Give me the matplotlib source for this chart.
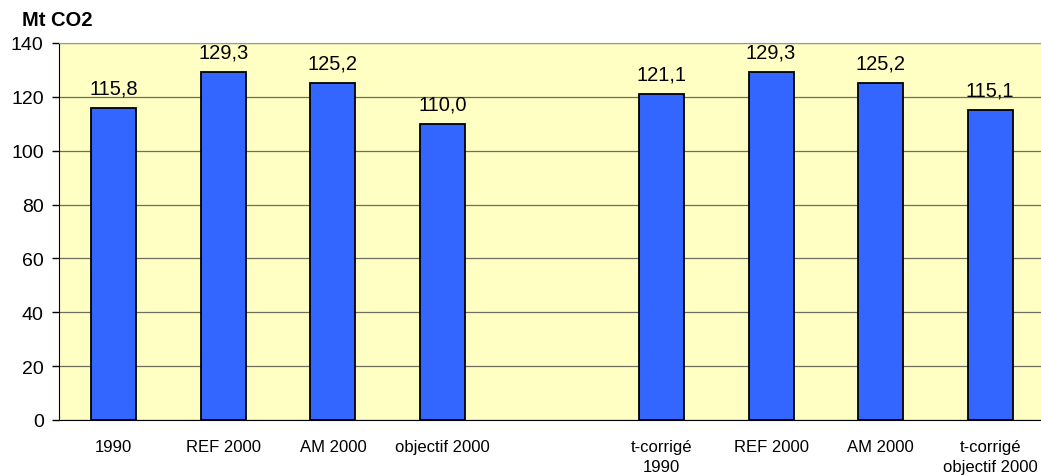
import matplotlib.pyplot as plt
import numpy as np

plt.rcParams['font.family'] = ['Liberation Sans', 'DejaVu Sans']

categories = ['1990', 'REF 2000', 'AM 2000', 'objectif 2000', '',
              't-corrigé\n1990', 'REF 2000', 'AM 2000', 't-corrigé\nobjectif 2000']
values = [115.8, 129.3, 125.2, 110.0, np.nan, 121.1, 129.3, 125.2, 115.1]

fig = plt.figure(figsize=(10.41, 4.77), dpi=100)
ax = fig.add_axes([59 / 1041, 1 - 421 / 477, 986 / 1041, 377 / 477])
ax.set_facecolor('#FFFFC4')

x = np.arange(len(categories))
bars = ax.bar(x, values, width=0.41, color='#3366FF', edgecolor='black',
              linewidth=1.3, zorder=3)

# value labels with a decimal comma
for xi, v in zip(x, values):
    if np.isnan(v):
        continue
    ax.text(xi, v + 4.0, f'{v:.1f}'.replace('.', ','), ha='center', va='bottom',
            fontsize=14.5)

ax.set_xlim(-0.5, len(categories) - 0.5)
ax.set_ylim(0, 140)
ax.set_yticks(range(0, 141, 20))
ax.yaxis.grid(True, color='#6e6e5e', linewidth=0.9, zorder=1)
ax.set_axisbelow(True)

ax.set_xticks(x)
ax.set_xticklabels(categories, fontsize=12, linespacing=1.35)
ax.tick_params(axis='x', length=0, pad=14)
ax.tick_params(axis='y', labelsize=14, length=5, width=1, pad=6)

ax.spines['left'].set_color('black')
ax.spines['bottom'].set_color('black')
ax.spines['top'].set_color('#999999')
ax.spines['right'].set_visible(False)

fig.text(22 / 1041, 1 - 20 / 477, 'Mt CO2', fontsize=14.5, fontweight='bold',
         ha='left', va='center')

fig.savefig('out.png', dpi=100)
